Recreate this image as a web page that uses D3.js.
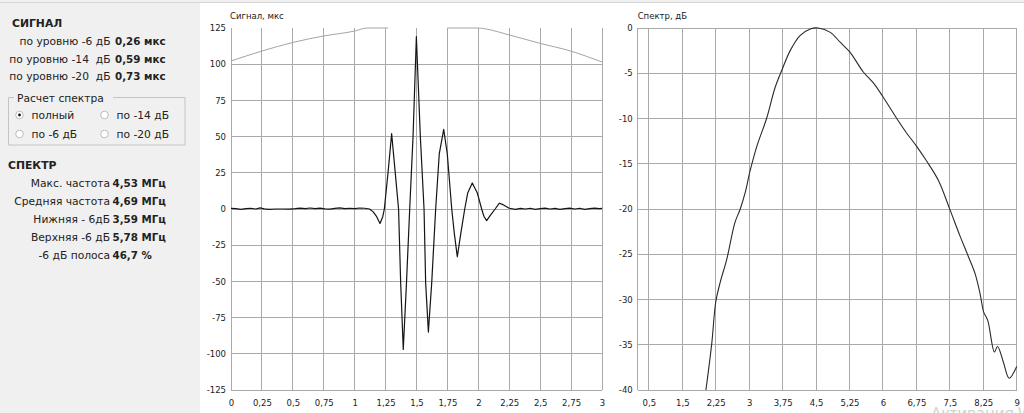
<!DOCTYPE html>
<html>
<head>
<meta charset="utf-8">
<script src="https://cdn.jsdelivr.net/npm/d3@7"></script>
<style>
  body { margin: 0; background: #f0f0f0; }
  svg { display: block; }
  text { white-space: pre; }
</style>
</head>
<body>
<svg id="c" width="1024" height="413"></svg>
<script>
// ---------- data ----------
const signalLabels = ["по уровню -6 дБ", "по уровню -14\u00a0 дБ", "по уровню -20\u00a0 дБ"];
const signalValues = ["0,26 мкс", "0,59 мкс", "0,73 мкс"];
const radioLabels = ["полный", "по -14 дБ", "по -6 дБ", "по -20 дБ"];
const radioChecked = [true, false, false, false];
const spectrumLabels = ["Макс. частота", "Средняя частота", "Нижняя - 6дБ", "Верхняя -6 дБ", "-6 дБ полоса"];
const spectrumValues = ["4,53 МГц", "4,69 МГц", "3,59 МГц", "5,78 МГц", "46,7 %"];

const sigXTicks = [0, 0.25, 0.5, 0.75, 1, 1.25, 1.5, 1.75, 2, 2.25, 2.5, 2.75, 3];
const sigXLabels = ["0", "0,25", "0,5", "0,75", "1", "1,25", "1,5", "1,75", "2", "2,25", "2,5", "2,75", "3"];
const sigYTicks = [125, 100, 75, 50, 25, 0, -25, -50, -75, -100, -125];

const specXTicks = [0.75, 1.5, 2.25, 3, 3.75, 4.5, 5.25, 6, 6.75, 7.5, 8.25, 9];
const specXLabels = ["0,5", "1,5", "2,25", "3", "3,75", "4,5", "5,25", "6", "6,75", "7,5", "8,25", "9"];
const specYTicks = [0, -5, -10, -15, -20, -25, -30, -35, -40];

// signal waveform (time, µs / amplitude)
const sigT = [0, 0.04, 0.08, 0.12, 0.16, 0.2, 0.235, 0.27, 0.31, 0.36, 0.42, 0.47, 0.52, 0.56, 0.6, 0.64, 0.68, 0.72, 0.76, 0.8, 0.84, 0.88, 0.92, 0.96, 1.0, 1.04, 1.08, 1.12, 1.15, 1.178, 1.205, 1.227, 1.24, 1.272, 1.299, 1.326, 1.355, 1.372, 1.393, 1.419, 1.445, 1.472, 1.499, 1.531, 1.561, 1.574, 1.596, 1.623, 1.655, 1.684, 1.72, 1.749, 1.785, 1.806, 1.83, 1.858, 1.89, 1.914, 1.951, 1.992, 2.027, 2.045, 2.067, 2.1, 2.136, 2.17, 2.2, 2.25, 2.3, 2.34, 2.38, 2.42, 2.46, 2.5, 2.54, 2.58, 2.62, 2.66, 2.7, 2.74, 2.78, 2.82, 2.86, 2.9, 2.94, 2.98, 3];
const sigV = [0.4, 0.2, -0.2, 0.3, 0.5, 0, 0.8, 0.1, -0.2, 0, 0, -0.1, 0.2, 0.6, 0.2, 0.7, 0.3, 0.6, 0.1, -0.1, 0.4, 0.8, 0.3, 0.5, 0.2, 0.7, 0.5, 0, -2, -5.3, -10, -5.3, 0, 27, 52, 27, 0, -51, -97, -51, 0, 50, 119, 50, 0, -51, -85, -51, 0, 38, 55, 38, 0, -17, -33, -17, 0, 11, 18, 11, 0, -5, -8, -4, 0, 4, 3, 0.5, -0.2, 0.4, 0, 0.5, -0.2, 0.2, 0.6, 0, 0.4, -0.2, 0.3, 0.6, 0, 0.5, -0.3, 0.2, 0.6, 0.2, 0.4];

// light envelope arc (null = not drawn)
const arcT = [0, 0.25, 0.5, 0.75, 1.0, 1.1, 1.27, 1.5, 1.75, 2.0, 2.05, 2.25, 2.5, 2.75, 3];
const arcV = [102.2, 109.1, 115, 119.5, 122.9, 125, 125, null, 125, 125, 124.5, 120.2, 114.4, 109, 101.5];

// spectrum (MHz / dB)
const specF = [2.03, 2.16, 2.25, 2.35, 2.5, 2.68, 2.8, 2.91, 3.02, 3.17, 3.39, 3.58, 3.73, 3.92, 4.14, 4.37, 4.55, 4.82, 5.04, 5.26, 5.56, 5.79, 6.0, 6.31, 6.53, 6.76, 6.98, 7.25, 7.49, 7.73, 7.92, 8.07, 8.18, 8.26, 8.35, 8.5, 8.57, 8.7, 8.83, 9.0];
const specDb = [-40, -34.9, -30.3, -28.1, -25.5, -21.5, -20, -18.2, -15.8, -13.1, -10, -6.6, -4.7, -2.5, -0.84, -0.11, 0, -0.48, -1.57, -2.67, -4.86, -6.1, -7.6, -10, -11.6, -13.1, -14.7, -16.9, -19.9, -23, -25.3, -27.2, -29.4, -31.4, -32.3, -35.8, -35.2, -36.9, -38.7, -37.4];

// ---------- drawing ----------
const svg = d3.select("#c");
const FONT = "'DejaVu Sans', Verdana, sans-serif";
const GRID = "#a9a9a9";
const TXT = "#222";

svg.append("rect").attr("width", 1024).attr("height", 413).attr("fill", "#f0f0f0");
svg.append("rect").attr("x", 200).attr("y", 3).attr("width", 824).attr("height", 410).attr("fill", "#ffffff");
svg.append("line").attr("x1", 0).attr("x2", 1024).attr("y1", 2.5).attr("y2", 2.5).attr("stroke", "#d6d6d6");

// ---- left panel ----
const LF = 10.7;
const lp = svg.append("g").attr("font-family", FONT).attr("fill", TXT);
lp.append("text").attr("x", 12).attr("y", 27.3).attr("font-size", 10.8).attr("font-weight", "bold").text("СИГНАЛ");
signalLabels.forEach((s, i) => {
  const y = 45 + i * 17.7;
  lp.append("text").attr("x", 110.5).attr("y", y).attr("font-size", LF).attr("text-anchor", "end").text(s);
  lp.append("text").attr("x", 115).attr("y", y).attr("font-size", 10.3).attr("font-weight", "bold").text(signalValues[i]);
});

// group box
const gb = lp.append("g");
gb.append("path")
  .attr("d", "M14,97.5 H8.5 V145 H185 V97.5 H113")
  .attr("fill", "none").attr("stroke", "#c4c4c4");
gb.append("text").attr("x", 17).attr("y", 101.5).attr("font-size", LF).text("Расчет спектра");
radioLabels.forEach((s, i) => {
  const col = i % 2, row = Math.floor(i / 2);
  const cx = col === 0 ? 19.5 : 104.5;
  const cy = row === 0 ? 115 : 134;
  gb.append("circle").attr("cx", cx).attr("cy", cy).attr("r", 3.8)
    .attr("fill", "#fff").attr("stroke", "#b5b5b5").attr("stroke-width", 0.9);
  if (radioChecked[i]) gb.append("circle").attr("cx", cx).attr("cy", cy).attr("r", 1.4).attr("fill", "#111");
  gb.append("text").attr("x", cx + 12).attr("y", cy + 4).attr("font-size", LF).text(s);
});

lp.append("text").attr("x", 8).attr("y", 169.3).attr("font-size", 10.8).attr("font-weight", "bold").text("СПЕКТР");
spectrumLabels.forEach((s, i) => {
  const y = 186.7 + i * 18;
  lp.append("text").attr("x", 110).attr("y", y).attr("font-size", LF).attr("text-anchor", "end").text(s);
  lp.append("text").attr("x", 112.5).attr("y", y).attr("font-size", 10.3).attr("font-weight", "bold").text(spectrumValues[i]);
});

// ---- signal chart ----
const sx = d3.scaleLinear().domain([0, 3]).range([231, 602]);
const sy = d3.scaleLinear().domain([-125, 125]).range([390, 28]);

const sg = svg.append("g");
sg.selectAll("line.vg").data(sigXTicks).join("line")
  .attr("x1", d => sx(d)).attr("x2", d => sx(d)).attr("y1", sy(125)).attr("y2", sy(-125))
  .attr("stroke", GRID).attr("shape-rendering", "crispEdges");
sg.selectAll("line.hg").data(sigYTicks.filter(d => d !== 125)).join("line")
  .attr("x1", sx(0)).attr("x2", sx(3)).attr("y1", d => sy(d)).attr("y2", d => sy(d))
  .attr("stroke", GRID).attr("shape-rendering", "crispEdges");

const arcData = arcT.map((t, i) => [t, arcV[i]]);
sg.append("path").datum(arcData)
  .attr("d", d3.line().defined(d => d[1] !== null).x(d => sx(d[0])).y(d => sy(d[1])).curve(d3.curveMonotoneX))
  .attr("fill", "none").attr("stroke", "#a4a4a4").attr("stroke-width", 1);

const sigData = sigT.map((t, i) => [t, sigV[i]]);
sg.append("path").datum(sigData)
  .attr("d", d3.line().x(d => sx(d[0])).y(d => sy(d[1])))
  .attr("fill", "none").attr("stroke", "#151515").attr("stroke-width", 1.2).attr("stroke-linejoin", "round");

const sxAxis = sg.append("g").attr("transform", "translate(0,390)")
  .call(d3.axisBottom(sx).tickValues(sigXTicks).tickFormat((d, i) => sigXLabels[i]).tickSize(0).tickPadding(10));
const syAxis = sg.append("g").attr("transform", "translate(231,0)")
  .call(d3.axisLeft(sy).tickValues(sigYTicks).tickFormat(d => String(d)).tickSize(0).tickPadding(5));
sg.append("text").attr("x", 230).attr("y", 18.5).attr("font-family", FONT).attr("font-size", 8.5).attr("fill", TXT).text("Сигнал, мкс");

// ---- spectrum chart ----
const px = d3.scaleLinear().domain([0.5, 9]).range([637.7, 1016.7]);
const py = d3.scaleLinear().domain([-40, 0]).range([390, 28]);

const pg = svg.append("g");
pg.selectAll("line.vg").data([0.5].concat(specXTicks)).join("line")
  .attr("x1", d => px(d)).attr("x2", d => px(d)).attr("y1", py(0)).attr("y2", py(-40))
  .attr("stroke", GRID).attr("shape-rendering", "crispEdges");
pg.selectAll("line.hg").data(specYTicks).join("line")
  .attr("x1", px(0.5)).attr("x2", px(9)).attr("y1", d => py(d)).attr("y2", d => py(d))
  .attr("stroke", GRID).attr("shape-rendering", "crispEdges");

const specData = specF.map((f, i) => [f, specDb[i]]);
pg.append("path").datum(specData)
  .attr("d", d3.line().x(d => px(d[0])).y(d => py(d[1])).curve(d3.curveCatmullRom.alpha(0.5)))
  .attr("fill", "none").attr("stroke", "#2a2a2a").attr("stroke-width", 1.1);

const pxAxis = pg.append("g").attr("transform", "translate(0,390)")
  .call(d3.axisBottom(px).tickValues(specXTicks).tickFormat((d, i) => specXLabels[i]).tickSize(0).tickPadding(10));
const pyAxis = pg.append("g").attr("transform", "translate(637.7,0)")
  .call(d3.axisLeft(py).tickValues(specYTicks).tickFormat(d => String(d)).tickSize(0).tickPadding(5));
pg.append("text").attr("x", 637.7).attr("y", 18.5).attr("font-family", FONT).attr("font-size", 8.5).attr("fill", TXT).text("Спектр, дБ");

[sxAxis, syAxis, pxAxis, pyAxis].forEach(a => {
  a.select(".domain").remove();
  a.attr("font-family", FONT).attr("font-size", 8.5);
  a.selectAll("text").attr("fill", TXT);
});

// watermark (partly outside the window, as in the reference)
svg.append("text").attr("x", 931).attr("y", 419).attr("font-family", "'Noto Sans', sans-serif")
  .attr("font-size", 16).attr("fill", "#d2d2d2").text("Активация Windows");
</script>
</body>
</html>
